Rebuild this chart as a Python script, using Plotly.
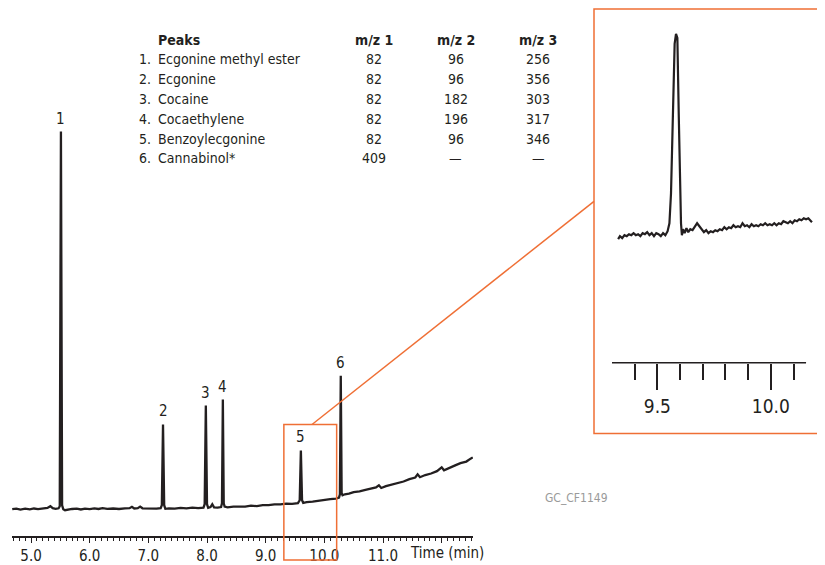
import plotly.graph_objects as go

# Chromatogram (main trace), signal in arbitrary units
time_min = [4.68, 4.75, 4.82, 4.90, 4.98, 5.05, 5.12, 5.20, 5.28, 5.33, 5.37, 5.42, 5.47,
            5.49, 5.51, 5.53, 5.55, 5.58, 5.63, 5.70, 5.78, 5.85, 5.92, 6.00, 6.08, 6.15,
            6.22, 6.30, 6.40, 6.50, 6.60, 6.68, 6.72, 6.76, 6.82, 6.86, 6.90, 6.98, 7.06,
            7.14, 7.21, 7.23, 7.25, 7.27, 7.29, 7.35, 7.45, 7.55, 7.65, 7.75, 7.85, 7.94,
            7.96, 7.98, 8.00, 8.02, 8.06, 8.09, 8.12, 8.18, 8.24, 8.255, 8.27, 8.285, 8.30,
            8.35, 8.45, 8.55, 8.65, 8.75, 8.85, 8.95, 9.05, 9.15, 9.25, 9.35, 9.45, 9.55,
            9.58, 9.60, 9.62, 9.64, 9.70, 9.80, 9.90, 10.00, 10.10, 10.20, 10.25, 10.265,
            10.28, 10.295, 10.31, 10.35, 10.42, 10.50, 10.60, 10.70, 10.80, 10.88, 10.93,
            10.97, 11.05, 11.15, 11.25, 11.35, 11.45, 11.55, 11.59, 11.63, 11.72, 11.82,
            11.92, 12.00, 12.04, 12.12, 12.22, 12.32, 12.42, 12.50, 12.53]
signal = [0, 0.6, -0.4, 0.5, -0.2, 0.7, 0.1, 0.9, 1.2, 3, 1, 0.4, 0.9,
          3, 379, 4, 0, -1, -0.4, 0.2, 0.5, -0.3, 0.6, 0.1, 0.8, 0.2,
          1.0, 0.3, 0.7, 0.2, 0.9, 1.0, 2.4, 0.7, 1.1, 2.6, 0.9, 0.6, 1.0,
          0.5, 1.0, 4, 85, 4, 0.4, 0.9, 0.5, 1.3, 0.9, 1.5, 1.1, 1.6,
          5, 104, 5, 1.4, 2.1, 5, 1.9, 1.5, 2.1, 6, 110, 6, 2.6,
          1.9, 2.5, 2.7, 2.5, 3.5, 3.1, 4.1, 4.0, 4.9, 4.8, 5.5, 5.4, 6.1,
          9, 59, 9, 6.4, 7.1, 7.5, 8.5, 8.9, 10.1, 10.7, 11.6, 15,
          134, 16, 14, 15, 15.6, 17.2, 17.8, 19.3, 20.3, 21.8, 24,
          21.3, 23.2, 24.8, 26.7, 27.8, 30.2, 31.8, 35, 32.1, 34.3, 35.8,
          38.2, 42, 39, 41.3, 43.7, 46.2, 47.8, 51, 52]

peak_labels = ["1", "2", "3", "4", "5", "6"]
peak_times = [5.51, 7.25, 7.98, 8.27, 9.60, 10.28]
peak_tops = [379, 85, 104, 110, 59, 134]

# Enlarged view of peak 5
inset_time = [9.327, 9.335, 9.345, 9.355, 9.365, 9.375, 9.385, 9.395, 9.405, 9.415, 9.425,
              9.435, 9.445, 9.455, 9.465, 9.475, 9.485, 9.495, 9.505, 9.515, 9.525, 9.535,
              9.545, 9.553, 9.560, 9.568, 9.576, 9.582, 9.588, 9.594, 9.600, 9.604, 9.608,
              9.613, 9.620, 9.628, 9.636, 9.645, 9.655, 9.665, 9.675, 9.685, 9.695, 9.705,
              9.715, 9.725, 9.735, 9.745, 9.755, 9.765, 9.775, 9.785, 9.795, 9.805, 9.815,
              9.825, 9.835, 9.845, 9.855, 9.865, 9.875, 9.885, 9.895, 9.905, 9.915, 9.925,
              9.935, 9.945, 9.955, 9.965, 9.975, 9.985, 9.995, 10.005, 10.015, 10.025,
              10.035, 10.045, 10.055, 10.065, 10.075, 10.085, 10.095, 10.105, 10.115,
              10.125, 10.135, 10.145, 10.155, 10.165, 10.175, 10.181]
inset_signal = [124, 127, 125, 128, 127, 129, 128, 130, 128, 129, 127,
                130, 129, 131, 128, 130, 127, 130, 129, 127, 130, 128,
                132, 140, 170, 250, 320, 330, 326, 250, 170, 140, 128,
                134, 130, 135, 131, 134, 133, 136, 140, 137, 134, 131,
                133, 130, 132, 131, 133, 132, 134, 133, 136, 134, 136,
                135, 138, 136, 137, 136, 140, 137, 138, 136, 139, 137,
                138, 137, 139, 138, 140, 138, 139, 138, 140, 138,
                140, 139, 142, 141, 140, 142, 140, 143, 142,
                144, 143, 145, 144, 145, 142, 141]

# Peak table
compounds = ["Ecgonine methyl ester", "Ecgonine", "Cocaine", "Cocaethylene",
             "Benzoylecgonine", "Cannabinol*"]
mz_headers = ["m/z 1", "m/z 2", "m/z 3"]
mz1 = ["82", "82", "82", "82", "82", "409"]
mz2 = ["96", "96", "182", "196", "96", "—"]
mz3 = ["256", "356", "303", "317", "346", "—"]

main_ticks = [5, 6, 7, 8, 9, 10, 11, 12]
main_ticktext = ["5.0", "6.0", "7.0", "8.0", "9.0", "10.0", "11.0", ""]
inset_ticks = [9.5, 10.0]
inset_minor = [9.4, 9.6, 9.7, 9.8, 9.9, 10.1]

# page body has an 8px margin, so the figure is drawn 8px in from the window corner
OFF = 8
W, H = 825 - OFF, 565 - OFF
FONT = "DejaVu Sans Condensed, Liberation Sans Narrow, Noto Sans, sans-serif"
INK = "#231f20"
ORANGE = "#ef6f35"


def px(x):
    return (x - OFF) / W


def py(y):
    return 1 - (y - OFF) / H


def note(x, y, text, size=14, color=INK, xanchor="center"):
    return dict(x=px(x), y=py(y), xref="paper", yref="paper", text=text, showarrow=False,
                xanchor=xanchor, yanchor="middle", font=dict(size=size, color=color))


fig = go.Figure()
fig.add_trace(go.Scatter(x=time_min, y=signal, mode="lines",
                         line=dict(color=INK, width=2.3), xaxis="x", yaxis="y"))
fig.add_trace(go.Scatter(x=inset_time, y=inset_signal, mode="lines",
                         line=dict(color=INK, width=2.2), xaxis="x2", yaxis="y2"))

annotations = []
# peak numbers
for lab, t, h in zip(peak_labels, peak_times, peak_tops):
    annotations.append(dict(x=t, y=h, xref="x", yref="y", text=lab, showarrow=False,
                            xanchor="center", yanchor="bottom", yshift=2,
                            font=dict(size=15, color=INK)))

# table
annotations.append(note(156, 40, "<b>Peaks</b>", xanchor="left"))
for hdr, cx in zip(mz_headers, [374, 456, 538]):
    annotations.append(note(cx, 40, "<b>%s</b>" % hdr))
for i, name in enumerate(compounds):
    yy = 59 + 20 * i
    annotations.append(note(137, yy, "%d." % (i + 1), xanchor="left"))
    annotations.append(note(156, yy, name, xanchor="left"))
    for col, cx in zip([mz1, mz2, mz3], [374, 456, 538]):
        annotations.append(note(cx, yy, col[i]))

annotations.append(note(447, 555, "Time (min)", size=15))
annotations.append(note(576, 500, "GC_CF1149", size=12, color="#9a9a9a"))
fig.update_layout(annotations=annotations)

# zoom box, connector, inset frame, inset axis line
fig.add_shape(type="rect", xref="x", yref="paper", x0=9.31, x1=10.21, y0=py(562), y1=py(426),
              line=dict(color=ORANGE, width=1.5))
fig.add_shape(type="line", xref="paper", yref="paper", x0=px(312), y0=py(426), x1=px(594), y1=py(202),
              line=dict(color=ORANGE, width=1.5))
fig.add_shape(type="rect", xref="paper", yref="paper", x0=px(594), x1=px(830), y0=py(435), y1=py(9),
              line=dict(color=ORANGE, width=1.5))
fig.add_shape(type="line", xref="x2", yref="y2 domain", x0=9.30, x1=10.155, y0=0, y1=0,
              line=dict(color=INK, width=1.5))

fig.update_layout(
    width=W, height=H,
    margin=dict(l=0, r=0, t=0, b=0),
    paper_bgcolor="white", plot_bgcolor="rgba(0,0,0,0)",
    showlegend=False,
    font=dict(family=FONT, color=INK),
    xaxis=dict(domain=[px(12), px(473)], range=[4.676, 12.534], showgrid=False, zeroline=False,
               showline=True, linecolor=INK, linewidth=1.5,
               tickvals=main_ticks, ticktext=main_ticktext, ticks="outside", ticklen=5,
               tickwidth=1, tickcolor=INK, tickfont=dict(size=15, color=INK),
               minor=dict(dtick=0.1, tick0=5, ticks="outside", ticklen=3, tickwidth=1, tickcolor=INK)),
    yaxis=dict(domain=[py(538), py(100)], range=[-27, 411], visible=False),
    xaxis2=dict(domain=[px(612), px(814)], range=[9.30, 10.19], anchor="y2", showgrid=False,
                zeroline=False, showline=False,
                tickvals=inset_ticks, ticktext=["9.5", "10.0"], ticks="outside", ticklen=26,
                tickwidth=1.5, tickcolor=INK, tickfont=dict(size=19, color=INK),
                minor=dict(tickvals=inset_minor, ticks="outside", ticklen=16, tickwidth=1.5,
                           tickcolor=INK)),
    yaxis2=dict(domain=[py(364), py(20)], range=[0, 344], anchor="x2", visible=False),
)

fig.write_html("out.html")
